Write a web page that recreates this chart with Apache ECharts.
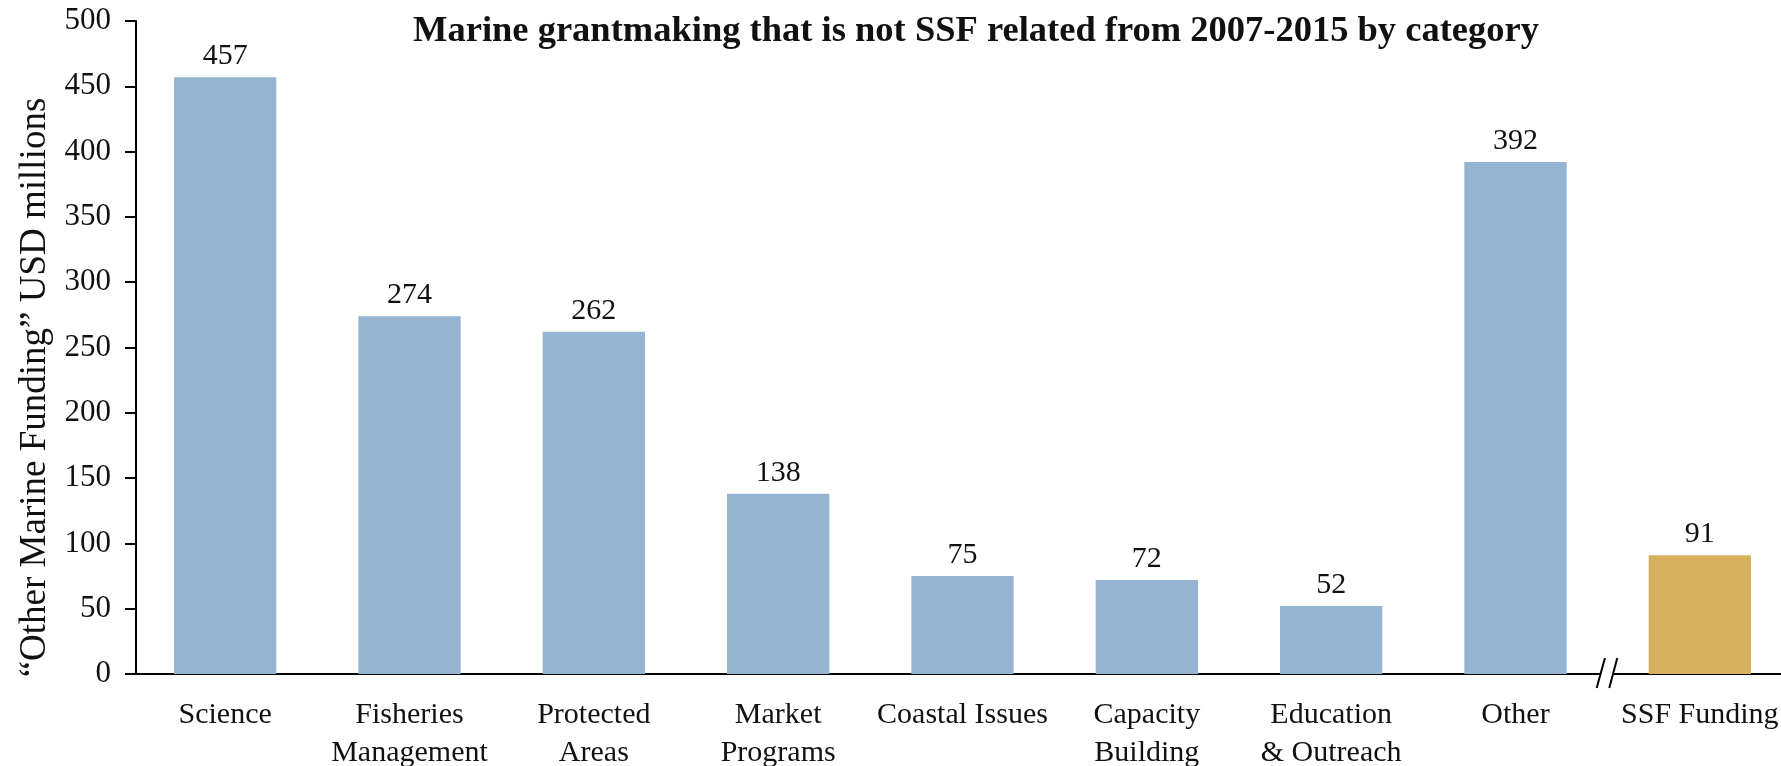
<!DOCTYPE html>
<html>
<head>
<meta charset="utf-8">
<script src="https://cdn.jsdelivr.net/npm/echarts@6/dist/echarts.min.js"></script>
<style>
  html, body { margin: 0; padding: 0; background: #ffffff; }
  #chart { width: 1781px; height: 766px; }
</style>
</head>
<body>
<div id="chart"></div>
<script>
// Grant categories and totals (USD millions), 2007-2015
const categories = [
  'Science', 'Fisheries\nManagement', 'Protected\nAreas', 'Market\nPrograms',
  'Coastal Issues', 'Capacity\nBuilding', 'Education\n& Outreach', 'Other', 'SSF Funding'
];
const fundingValues = [457, 274, 262, 138, 75, 72, 52, 392, 91];
// The last category is the SSF total, shown in a contrasting colour
const ssfIndex = 8;
const yTicks = { min: 0, max: 500, interval: 50 };

const FONT = '"Liberation Serif", "Times New Roman", serif';
const BLUE = '#95b4d1';
const GOLD = '#d7b05e';
const INK = '#111111';

const chart = echarts.init(document.getElementById('chart'));

const barData = fundingValues.map((v, i) => ({
  value: v,
  itemStyle: { color: i === ssfIndex ? GOLD : BLUE }
}));

chart.setOption({
  backgroundColor: '#ffffff',
  animation: false,
  title: {
    text: 'Marine grantmaking that is not SSF related from 2007-2015 by category',
    left: 971,
    textAlign: 'center',
    top: 8,
    textStyle: { fontFamily: FONT, fontSize: 36.5, fontWeight: 'bold', color: INK }
  },
  // the plot runs past the right edge so the last bar sits close to it
  grid: {
    left: 133, width: 1659, top: 21, bottom: 92,
    containLabel: false, outerBoundsMode: 'none'
  },
  xAxis: {
    type: 'category',
    data: categories,
    axisLine: { show: true, lineStyle: { color: '#000', width: 2 } },
    axisTick: { show: false },
    axisLabel: {
      interval: 0,
      margin: 22,
      fontFamily: FONT,
      fontSize: 30,
      lineHeight: 38,
      color: INK
    }
  },
  yAxis: {
    type: 'value',
    min: yTicks.min,
    max: yTicks.max,
    interval: yTicks.interval,
    offset: -3,
    name: '\u201COther Marine Funding\u201D USD millions',
    nameLocation: 'middle',
    nameGap: 82,
    nameTextStyle: {
      fontFamily: FONT, fontSize: 37, color: INK,
      padding: [0, 80, 0, 0]
    },
    axisLine: { show: true, lineStyle: { color: '#000', width: 2 } },
    axisTick: { show: true, inside: false, length: 11, lineStyle: { color: '#000', width: 2 } },
    splitLine: { show: false },
    axisLabel: { margin: 25, fontFamily: FONT, fontSize: 31, color: INK }
  },
  series: [{
    type: 'bar',
    data: barData,
    barWidth: '55.5%',
    label: {
      show: true,
      position: 'top',
      distance: 6,
      fontFamily: FONT,
      fontSize: 30,
      color: INK
    }
  }]
});

// Axis-break mark between "Other" and "SSF Funding"
function drawBreak() {
  const xa = chart.convertToPixel({ xAxisIndex: 0 }, ssfIndex - 1);
  const xb = chart.convertToPixel({ xAxisIndex: 0 }, ssfIndex);
  const cx = (xa + xb) / 2;
  const y = chart.convertToPixel({ yAxisIndex: 0 }, 0);
  const slash = { stroke: '#000', lineWidth: 2 };
  chart.setOption({
    graphic: [
      { type: 'rect', shape: { x: cx - 6.5, y: y - 3, width: 12, height: 6 }, style: { fill: '#fff' }, z: 100 },
      { type: 'line', shape: { x1: cx - 11, y1: y + 14, x2: cx - 2.7, y2: y - 16 }, style: slash, z: 101 },
      { type: 'line', shape: { x1: cx + 1.6, y1: y + 14, x2: cx + 9.6, y2: y - 16 }, style: slash, z: 101 }
    ]
  });
}
drawBreak();
</script>
</body>
</html>
